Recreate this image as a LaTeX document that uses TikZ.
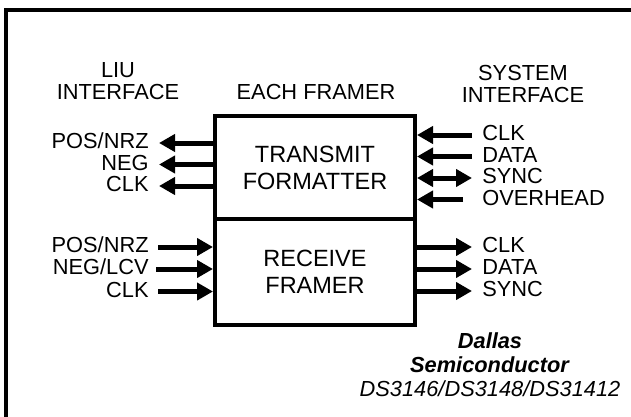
\documentclass[tikz,border=0pt]{standalone}
\usepackage{fontspec}
\setmainfont{Liberation Sans}
\usepackage{tikz}
\usetikzlibrary{arrows.meta,calc}

\begin{document}
\begin{tikzpicture}[x=0.5pt, y=-0.5pt, line join=miter,
framer/.style={rectangle,draw,line width=2pt,minimum width=100pt,minimum height=52pt,
  align=center,font=\fontsize{11.75}{13.5}\selectfont},
head/.style={align=center,inner sep=0pt,font=\fontsize{10.9}{11}\selectfont},
lbl/.style={inner sep=0pt,text height=7.8pt,text depth=2pt,font=\fontsize{10.9}{11}\selectfont},
sig/.style={line width=2.5pt,-{Triangle[length=8pt,width=8.5pt]}},
  %% both/.style = {sig, {Triangle[length=8pt,width=8pt]}-{Triangle[length=8pt,width=8pt]}}
    ]
  \useasboundingbox (0,0) rectangle (631,417);
  \draw[line width=2pt] (645,10) -- (6,10) -- (6,430);

  % the framer
  \node[framer, minimum height=51.5pt] (tx) at (315,167.5) {TRANSMIT\\FORMATTER};
  \node[framer, minimum height=53pt] (rx) at (315,272) {RECEIVE\\FRAMER};

  \node[head] (liu) at (118,81) {LIU\\INTERFACE};
  \node[head] (each) at (316,92) {EACH FRAMER};
  \node[head] (sys) at (523,84) {SYSTEM\\INTERFACE};

  % LIU side
  \node[lbl, anchor=east] (tpos) at (149,143) {POS/NRZ};
  \node[lbl, anchor=east] (tneg) at (149,164.5) {NEG};
  \node[lbl, anchor=east] (tclk) at (149,186) {CLK};
  \draw[sig] (tx.west |- tpos.east) -- ([xshift=5pt]tpos.east);
  \draw[sig] (tx.west |- tneg.east) -- ([xshift=5pt]tneg.east);
  \draw[sig] (tx.west |- tclk.east) -- ([xshift=5pt]tclk.east);

  \node[lbl, anchor=east] (rpos) at (149,247) {POS/NRZ};
  \node[lbl, anchor=east] (rneg) at (149,269) {NEG/LCV};
  \node[lbl, anchor=east] (rclk) at (149,291.5) {CLK};
  \draw[sig] ([xshift=4.5pt]rpos.east) -- (rx.west |- rpos.east);
  \draw[sig] ([xshift=3.5pt]rneg.east) -- (rx.west |- rneg.east);
  \draw[sig] ([xshift=4.5pt]rclk.east) -- (rx.west |- rclk.east);

  % system side
  \node[lbl, anchor=west] (sclk) at (482,135) {CLK};
  \node[lbl, anchor=west] (sdata) at (482,156.5) {DATA};
  \node[lbl, anchor=west] (ssync) at (482,178) {SYNC};
  \node[lbl, anchor=west] (sovh) at (482,199.5) {OVERHEAD};
  \draw[sig] ([xshift=-5pt]sclk.west) -- (tx.east |- sclk.west);
  \draw[sig] ([xshift=-5pt]sdata.west) -- (tx.east |- sdata.west);
  \draw[sig, {Triangle[length=8pt,width=8.5pt]}-{Triangle[length=8pt,width=8.5pt]}] (tx.east |- ssync.west) -- ([xshift=-5pt]ssync.west);
  \draw[sig] ([xshift=-9.5pt]sovh.west) -- (tx.east |- sovh.west);

  \node[lbl, anchor=west] (oclk) at (482,247) {CLK};
  \node[lbl, anchor=west] (odata) at (482,269) {DATA};
  \node[lbl, anchor=west] (osync) at (482,291) {SYNC};
  \draw[sig] (rx.east |- oclk.west) -- ([xshift=-5pt]oclk.west);
  \draw[sig] (rx.east |- odata.west) -- ([xshift=-5pt]odata.west);
  \draw[sig] (rx.east |- osync.west) -- ([xshift=-5pt]osync.west);

  \node[head, font=\fontsize{10.9}{12}\selectfont] (dallas) at (490,365)
    {\textbf{\textit{Dallas}}\\\textbf{\textit{Semiconductor}}\\\textit{DS3146/DS3148/DS31412}};
\end{tikzpicture}
\end{document}
